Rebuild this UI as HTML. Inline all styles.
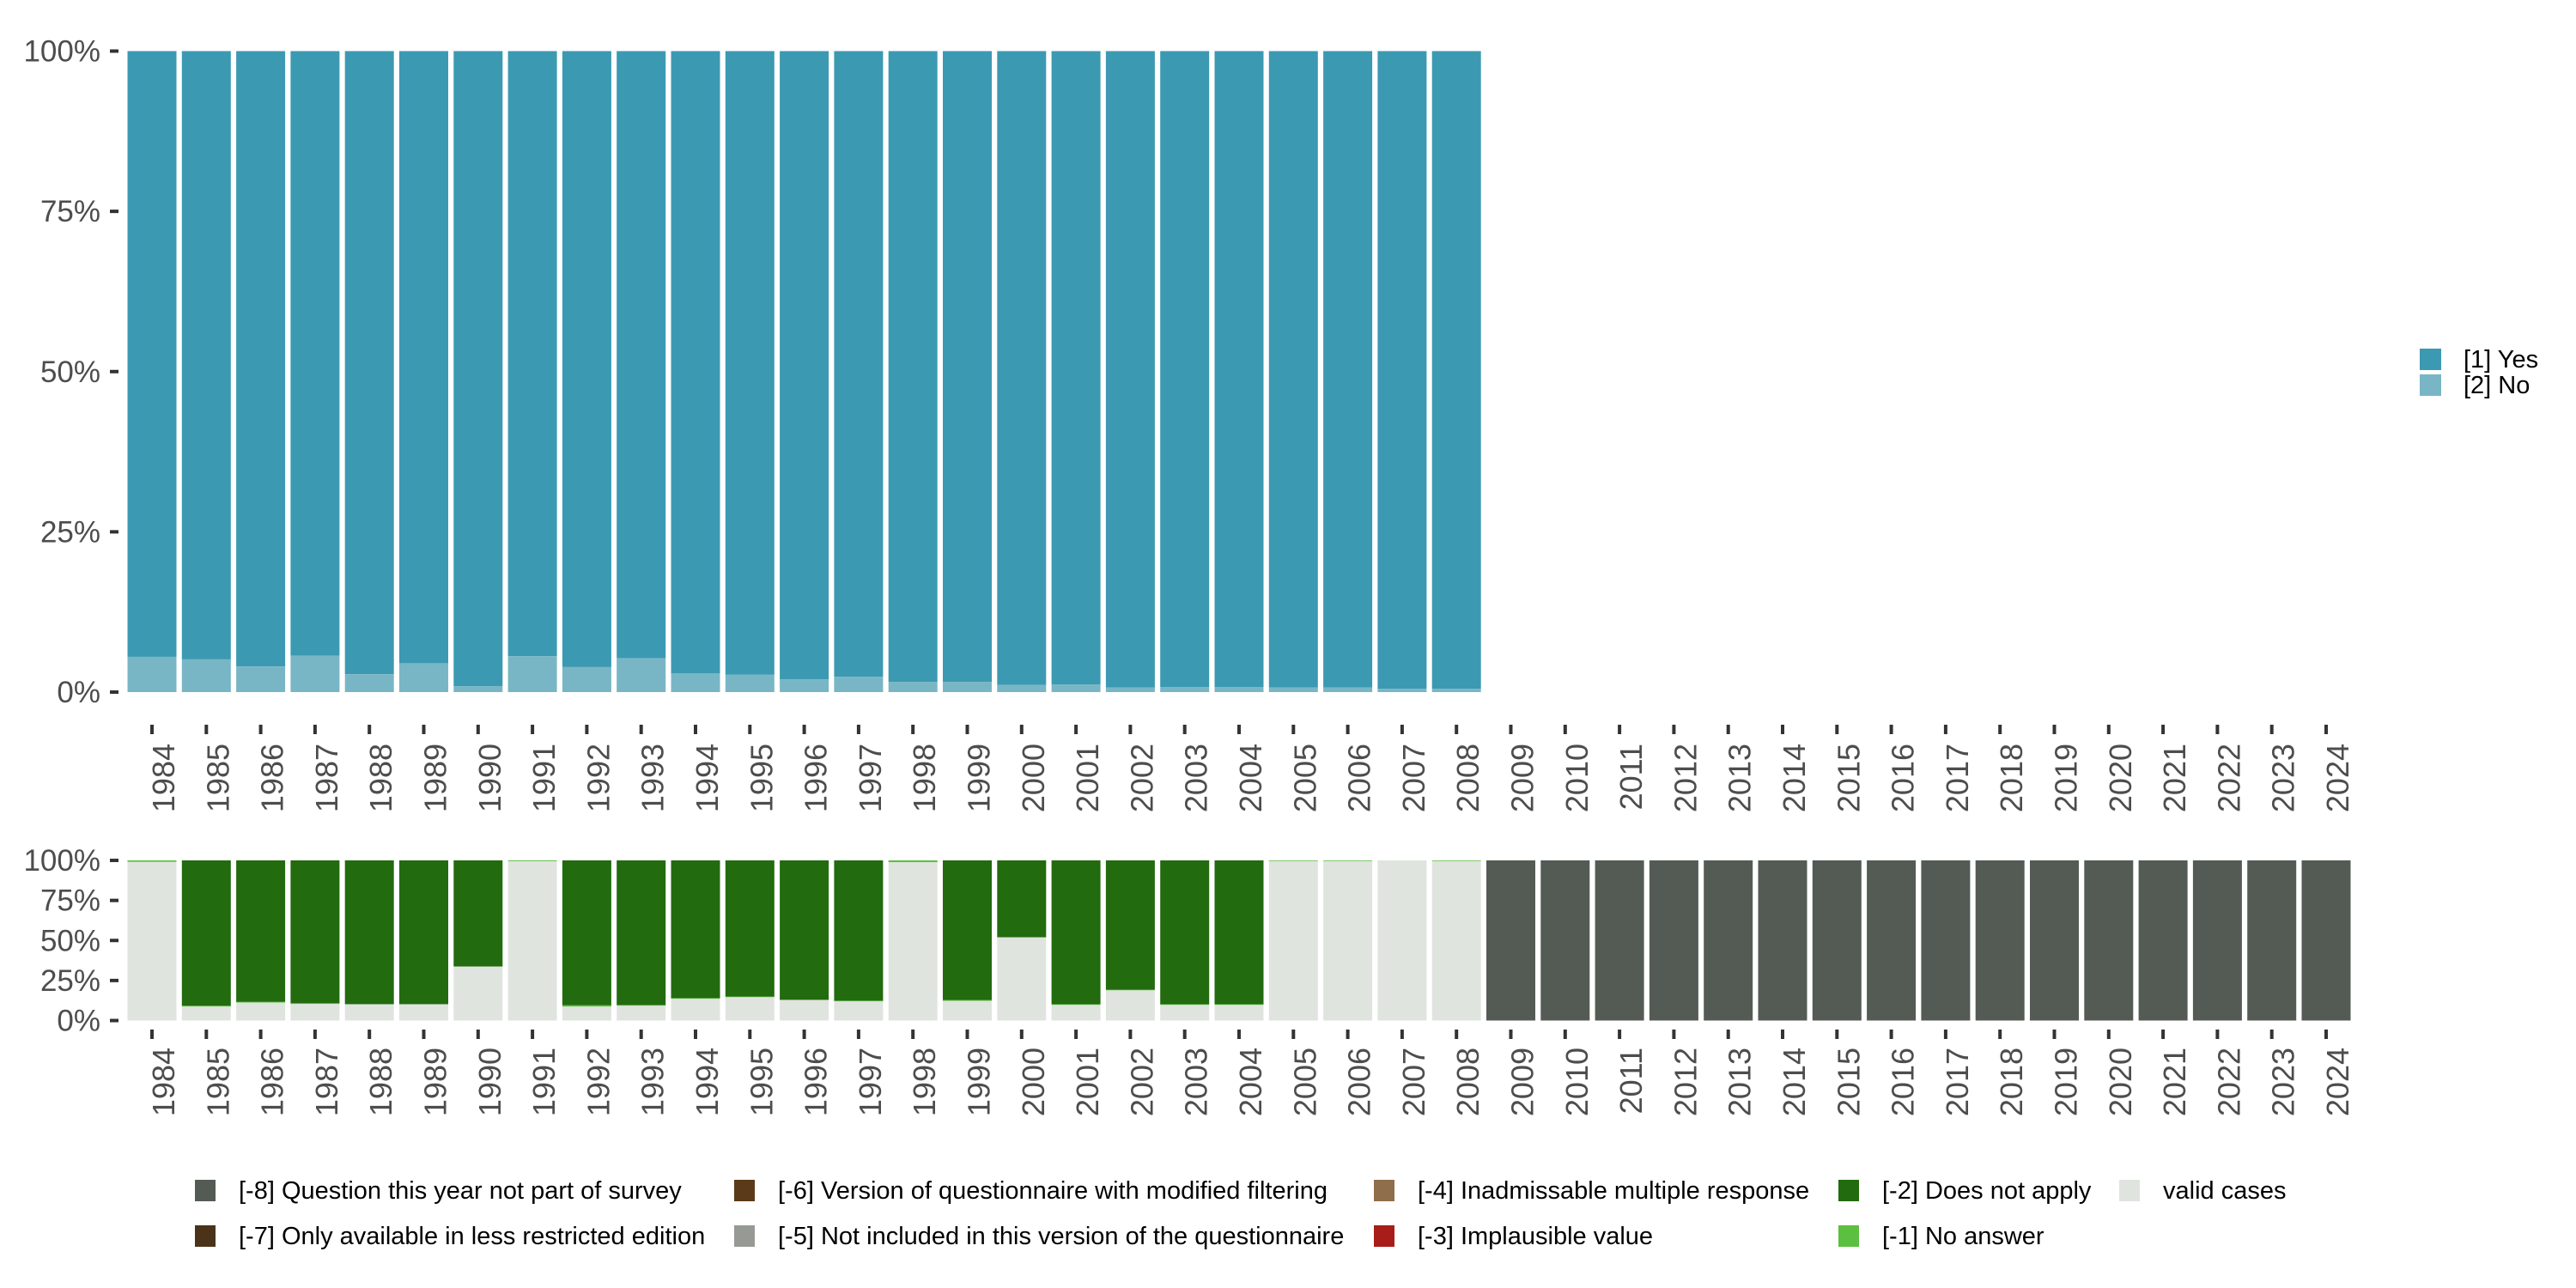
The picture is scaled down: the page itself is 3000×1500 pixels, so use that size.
<!DOCTYPE html>
<html><head><meta charset="utf-8"><style>
html,body{margin:0;padding:0;background:#fff;}
svg{display:block;font-family:"Liberation Sans",sans-serif;}
</style></head><body>
<svg id="chart" width="3000" height="1500" viewBox="0 0 3000 1500" xmlns="http://www.w3.org/2000/svg">
<g id="top"></g>
<g id="bottom"></g>
<g id="legend-top"></g>
<g id="legend-bottom"></g>
</svg>
<script>
const years = [];
for (let y = 1984; y <= 2024; y++) years.push(String(y));
const topYears = ["1984","1985","1986","1987","1988","1989","1990","1991","1992","1993","1994","1995","1996","1997","1998","1999","2000","2001","2002","2003","2004","2005","2006","2007","2008"];
const noShare = [5.5,5.1,4.0,5.7,2.8,4.5,0.9,5.6,3.9,5.3,2.9,2.7,2.0,2.4,1.6,1.6,1.1,1.2,0.7,0.8,0.8,0.7,0.7,0.5,0.5];
const validShare = [99.1,8.75,11.25,10.4,10.2,10.2,33.75,99.5,8.75,9.3,13.6,14.6,12.9,12.0,98.9,12.3,52.0,9.8,18.9,9.8,9.8,99.6,99.6,100,99.6,0,0,0,0,0,0,0,0,0,0,0,0,0,0,0,0];
const noAnswerShare = [0.9,0.5,0.4,0.4,0,0,0,0.5,0.9,0.4,0.4,0.4,0,0.4,1.1,0.5,0,0.4,0.4,0.4,0.4,0.4,0.4,0,0.4,0,0,0,0,0,0,0,0,0,0,0,0,0,0,0,0];
const notPartShare = [0,0,0,0,0,0,0,0,0,0,0,0,0,0,0,0,0,0,0,0,0,0,0,0,0,100,100,100,100,100,100,100,100,100,100,100,100,100,100,100,100];
const yTicks = [0,25,50,75,100];
const yTickLabels = ["0%","25%","50%","75%","100%"];

const NS = "http://www.w3.org/2000/svg";
function mk(tag, attrs, parent){const e=document.createElementNS(NS,tag);for(const k in attrs)e.setAttribute(k,attrs[k]);parent.appendChild(e);return e;}
const step = 63.3, x0 = 177, bw = 57;
function xc(year){return x0 + years.indexOf(year)*step;}
function yTop(v){return 806 - v*7.465;}
function yBot(v){return 1188.5 - v*1.865;}

function axes(g, yf, tickY1, labelY, prefix){
  yTicks.forEach((t,i)=>{
    const tk=mk('rect',{x:128,y:yf(t)-2,width:10,height:4,fill:'#333'},g);
    
    
    const tx=mk('text',{x:117,y:yf(t)+12,'text-anchor':'end','font-size':35,fill:'#4d4d4d'},g);
    tx.textContent=yTickLabels[i];
    
    
  });
  years.forEach(yr=>{
    const x=xc(yr);
    const tk=mk('rect',{x:x-2,y:tickY1,width:4,height:11,fill:'#333'},g);
    
    
    const tx=mk('text',{transform:`translate(${x+26},${labelY}) rotate(-90)`,'text-anchor':'end','font-size':36,fill:'#4d4d4d'},g);
    tx.textContent=yr;
    
    
  });
}

const gt=document.getElementById('top');
topYears.forEach((yr,i)=>{
  const x=xc(yr)-bw/2;
  const no=noShare[i];
  const r1=mk('rect',{x:x,y:yTop(100),width:bw,height:yTop(no)-yTop(100),fill:'#3c99b2'},gt);
  
  
  const r2=mk('rect',{x:x,y:yTop(no),width:bw,height:yTop(0)-yTop(no),fill:'#78b6c6'},gt);
  
  
});
axes(gt,yTop,844,866,'top');

const gb=document.getElementById('bottom');
years.forEach((yr,i)=>{
  const x=xc(yr)-bw/2;
  let acc=0;
  const segs=[[validShare[i],'#e0e4df','valid'],[noAnswerShare[i],'#5bbf3f','no-answer'],[100-validShare[i]-noAnswerShare[i]-notPartShare[i],'#226b0e','does-not-apply'],[notPartShare[i],'#545b54','not-part']];
  segs.forEach(s=>{
    if(s[0]<=0.01){return;}
    const r=mk('rect',{x:x,y:yBot(acc+s[0]),width:bw,height:yBot(acc)-yBot(acc+s[0]),fill:s[1]},gb);
    
    
    acc+=s[0];
  });
});
axes(gb,yBot,1199,1220,'bottom');

const lt=document.getElementById('legend-top');
[["[1] Yes","#3c99b2",406],["[2] No","#78b6c6",436]].forEach(d=>{
  const r=mk('rect',{x:2818,y:d[2],width:25,height:25,fill:d[1]},lt);
  
  
  const t=mk('text',{x:2869,y:d[2]+22,'font-size':29,fill:'#000'},lt);
  t.textContent=d[0];
  
  
});

const lb=document.getElementById('legend-bottom');
const legItems=[
 [227,1374,'#545b54','[-8] Question this year not part of survey'],
 [227,1427,'#4a3319','[-7] Only available in less restricted edition'],
 [855,1374,'#5b3a19','[-6] Version of questionnaire with modified filtering'],
 [855,1427,'#979a94','[-5] Not included in this version of the questionnaire'],
 [1600,1374,'#8f6e4b','[-4] Inadmissable multiple response'],
 [1600,1427,'#a81c1a','[-3] Implausible value'],
 [2141,1374,'#226b0e','[-2] Does not apply'],
 [2141,1427,'#5bbf3f','[-1] No answer'],
 [2468,1374,'#e0e4df','valid cases']
];
legItems.forEach(d=>{
  const r=mk('rect',{x:d[0],y:d[1],width:24,height:25,fill:d[2]},lb);
  
  
  const t=mk('text',{x:d[0]+51,y:d[1]+22,'font-size':29,fill:'#000'},lb);
  t.textContent=d[3];
  
  
});
</script>
</body></html>
